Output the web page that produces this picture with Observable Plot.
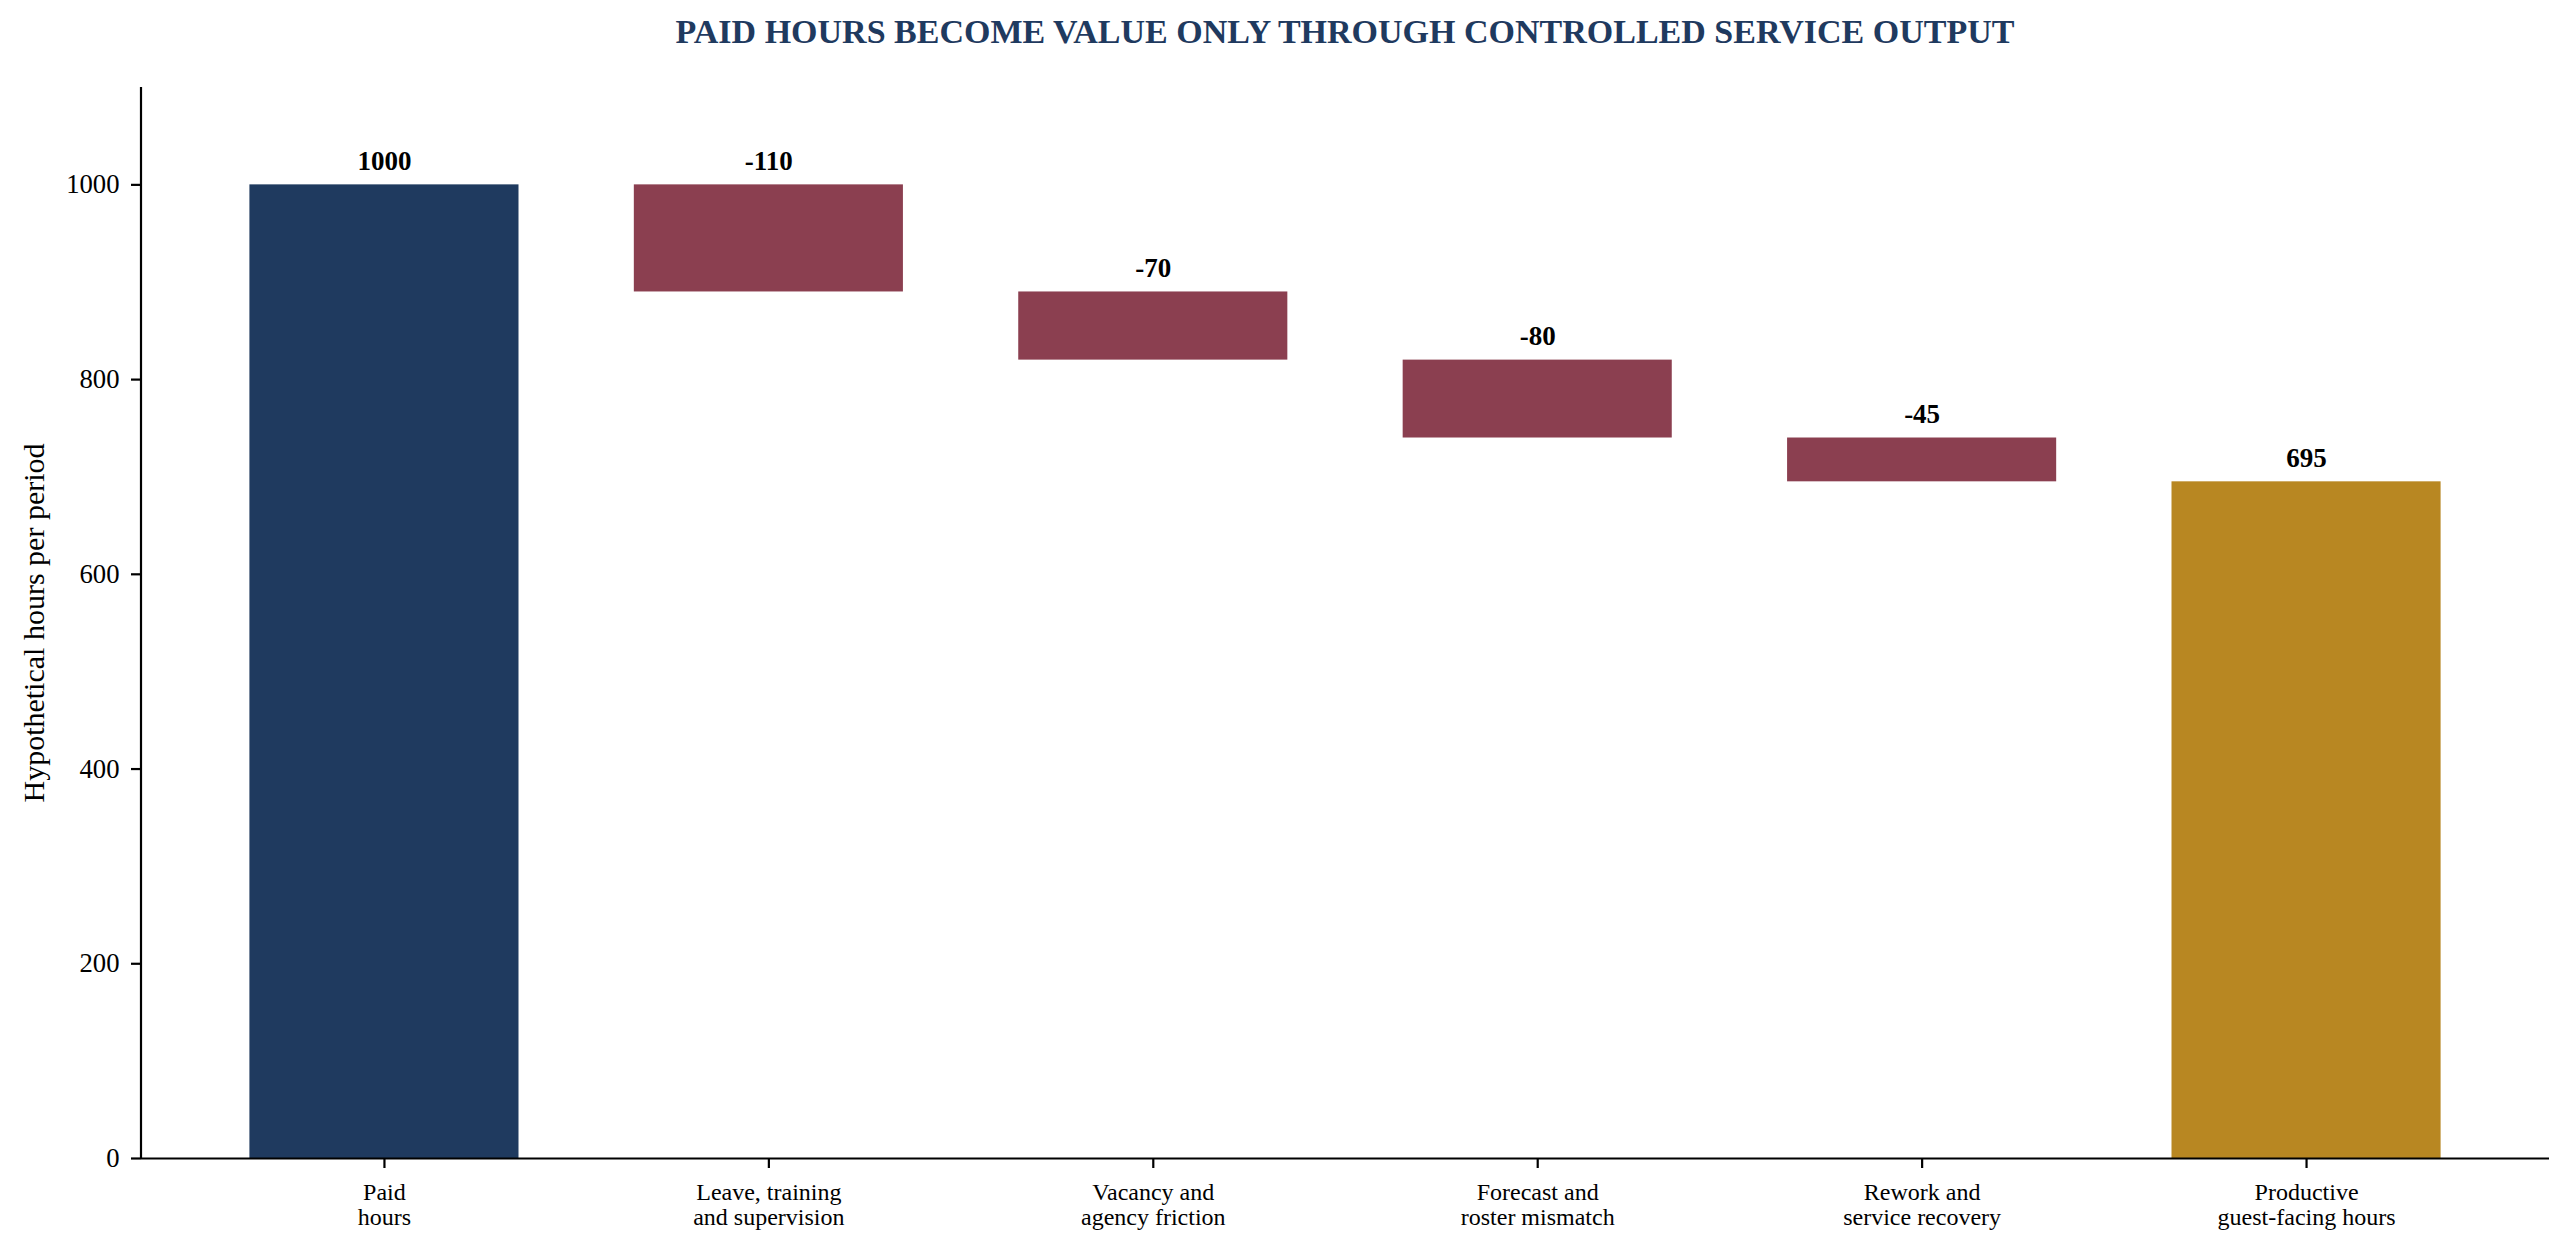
<!DOCTYPE html>
<html>
<head>
<meta charset="utf-8">
<script src="https://cdn.jsdelivr.net/npm/d3@7"></script>
<script src="https://cdn.jsdelivr.net/npm/@observablehq/plot@0.6"></script>
<style>
html, body { margin: 0; padding: 0; background: #fff; overflow: hidden; }
#title {
  height: 55px; padding-top: 15px; padding-left: 122px; box-sizing: content-box;
  text-align: center; font: bold 34px "Liberation Serif", "Times New Roman", serif;
  line-height: 34px; color: #1f3a5f; white-space: nowrap;
}
#chart svg { display: block; }
</style>
</head>
<body>
<div id="title">PAID HOURS BECOME VALUE ONLY THROUGH CONTROLLED SERVICE OUTPUT</div>
<div id="chart"></div>
<script>
// ---- data ----
const categories = [
  "Paid\nhours",
  "Leave, training\nand supervision",
  "Vacancy and\nagency friction",
  "Forecast and\nroster mismatch",
  "Rework and\nservice recovery",
  "Productive\nguest-facing hours"
];
const changes = [1000, -110, -70, -80, -45, 695];
const kinds = ["start", "loss", "loss", "loss", "loss", "end"];
const yTicks = [0, 200, 400, 600, 800, 1000];
const yDomain = [0, 1100];
const yLabel = "Hypothetical hours per period";
const kindColors = { start: "#1f3a5f", loss: "#8b3f50", end: "#b88722" };

// ---- build waterfall table ----
let running = 0;
const rows = categories.map((cat, i) => {
  const v = changes[i], k = kinds[i];
  let y1, y2;
  if (k === "loss") { y2 = running; y1 = running + v; running = y1; }
  else { y1 = 0; y2 = v; running = v; }
  return { cat, y1, y2, label: String(v), color: kindColors[k] };
});

const font = '"Liberation Serif", "Times New Roman", serif';

const chart = Plot.plot({
  width: 2568,
  height: 1183,
  marginTop: 17,
  marginBottom: 95,
  marginLeft: 141,
  marginRight: 19,
  style: { fontFamily: font, background: "#fff", color: "#000" },
  x: { domain: categories, paddingInner: 0.3, paddingOuter: 0.282, align: 0.5, round: false },
  y: { domain: yDomain },
  color: { type: "identity" },
  marks: [
    Plot.barY(rows, { x: "cat", y1: "y1", y2: "y2", fill: "color" }),
    Plot.text(rows, { x: "cat", y: "y2", text: "label", dy: -15, lineAnchor: "bottom",
      fontWeight: "bold", fontSize: 27, fill: "#000" }),
    Plot.axisY({ ticks: yTicks, tickFormat: d => String(d), tickSize: 10, tickPadding: 12,
      fontSize: 26.7, label: null, strokeWidth: 2.2 }),
    Plot.axisX({ tickSize: 10, tickPadding: 13, fontSize: 24, lineHeight: 1.07,
      label: null, strokeWidth: 2.2 }),
    Plot.ruleY([0], { stroke: "#000", strokeWidth: 2.2 }),
    Plot.text([yLabel], { text: d => d, frameAnchor: "left", textAnchor: "middle", rotate: -90, dx: -98,
      lineAnchor: "bottom", fontSize: 30, fill: "#000" })
  ]
});

// left spine, positioned with the chart's own y scale
const ys = chart.scale("y");
const xl = 141;
d3.select(chart).append("line")
  .attr("x1", xl).attr("x2", xl)
  .attr("y1", ys.apply(yDomain[1])).attr("y2", ys.apply(yDomain[0]) + 1.1)
  .attr("stroke", "#000").attr("stroke-width", 2.2);

document.getElementById("chart").appendChild(chart);
</script>
</body>
</html>
